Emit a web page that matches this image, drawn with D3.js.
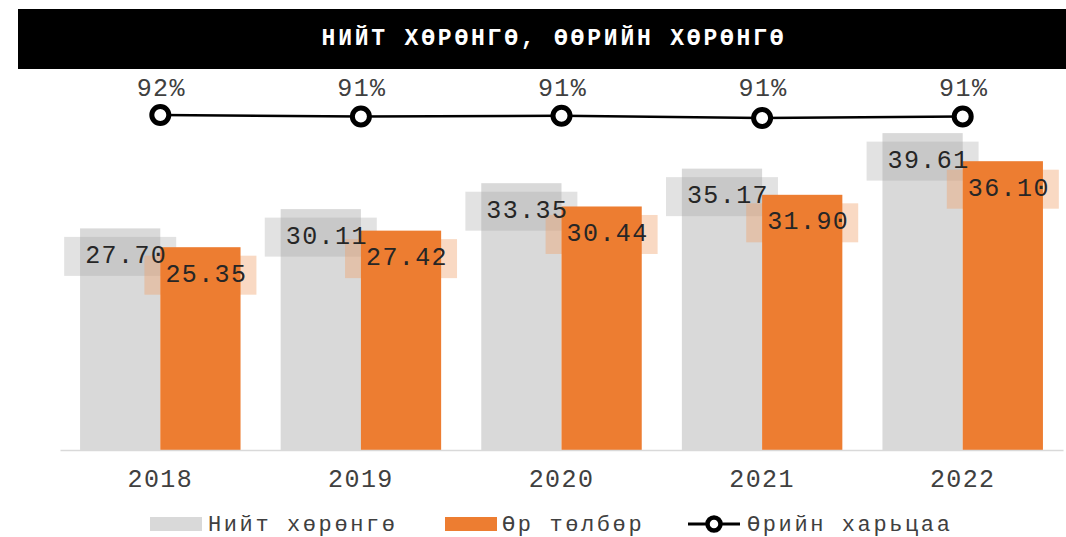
<!DOCTYPE html>
<html>
<head>
<meta charset="utf-8">
<script src="https://cdn.jsdelivr.net/npm/d3@7"></script>
<style>
  html, body { margin: 0; padding: 0; background: #fff; }
  svg { display: block; }
</style>
</head>
<body>
<div id="chart"></div>
<script>
//# Нийт хөрөнгө, өөрийн хөрөнгө


//## Data

const years = ["2018", "2019", "2020", "2021", "2022"];
const totalAssets = [27.70, 30.11, 33.35, 35.17, 39.61];
const liabilities = [25.35, 27.42, 30.44, 31.90, 36.10];
const debtRatio = [0.915, 0.911, 0.913, 0.907, 0.911];

const seriesNames = ["Нийт хөрөнгө", "Өр төлбөр", "Өрийн харьцаа"];
const title = "НИЙТ ХӨРӨНГӨ, ӨӨРИЙН ХӨРӨНГӨ";


//## Style

const width = 1066;
const height = 537;
const grey = "#D9D9D9";
const orange = "#ED7D31";
const textColor = "#404040";
const fontFamily = "'Courier New', 'Liberation Mono', monospace";


//## Chart

const svg = d3.select("#chart")
  .append("svg")
  .attr("width", width)
  .attr("height", height);

// title band
svg.append("rect")
  .attr("x", 18).attr("y", 9)
  .attr("width", width - 18).attr("height", 60)
  .attr("fill", "#000");

svg.append("text")
  .attr("x", 554).attr("y", 39)
  .attr("text-anchor", "middle")
  .attr("dominant-baseline", "central")
  .style("font-family", fontFamily)
  .style("font-weight", "bold")
  .style("font-size", "23px")
  .style("letter-spacing", "2.8px")
  .attr("fill", "#fff")
  .text(title);

const x = d3.scaleBand()
  .domain(years)
  .range([60, 1063])
  .paddingInner(0.2)
  .paddingOuter(0.1);

const x1 = d3.scaleBand()
  .domain([0, 1])
  .range([0, x.bandwidth()]);

const y = d3.scaleLinear()
  .domain([0, 40])
  .range([450, 130]);

const y2 = d3.scaleLinear()
  .domain([0.90, 0.92])
  .range([120.6, 113.1]);

const rows = years.map((year, i) => ({
  year,
  values: [totalAssets[i], liabilities[i]],
  ratio: debtRatio[i]
}));

const labelFont = (sel) => sel
  .style("font-family", fontFamily)
  .style("font-size", "25px")
  .style("letter-spacing", "1.4px");

// grey bars
svg.append("g")
  .selectAll("rect")
  .data(rows)
  .join("rect")
  .attr("x", (d) => x(d.year) + x1(0))
  .attr("y", (d) => y(d.values[0]))
  .attr("width", x1.bandwidth())
  .attr("height", (d) => y(0) - y(d.values[0]))
  .attr("fill", grey);

// label boxes
const boxW = 112, boxH = 39, boxOffset = 28;
const boxFill = ["rgba(166,166,166,0.32)", "rgba(241,160,105,0.4)"];

[0, 1].forEach((k) => {
  svg.append("g")
    .selectAll("rect")
    .data(rows)
    .join("rect")
    .attr("x", (d) => x(d.year) + x1(k) + x1.bandwidth() / 2 - boxW / 2)
    .attr("y", (d) => y(d.values[k]) + boxOffset - boxH / 2)
    .attr("width", boxW)
    .attr("height", boxH)
    .attr("fill", boxFill[k]);
});

// orange bars
svg.append("g")
  .selectAll("rect")
  .data(rows)
  .join("rect")
  .attr("x", (d) => x(d.year) + x1(1))
  .attr("y", (d) => y(d.values[1]))
  .attr("width", x1.bandwidth())
  .attr("height", (d) => y(0) - y(d.values[1]))
  .attr("fill", orange);

// value labels
[0, 1].forEach((k) => {
  svg.append("g")
    .selectAll("text")
    .data(rows)
    .join("text")
    .attr("x", (d) => x(d.year) + x1(k) + x1.bandwidth() / 2 + 6)
    .attr("y", (d) => y(d.values[k]) + boxOffset)
    .attr("text-anchor", "middle")
    .attr("dominant-baseline", "central")
    .attr("fill", "#262626")
    .call(labelFont)
    .text((d) => d.values[k].toFixed(2));
});

// x axis
const xAxis = svg.append("g")
  .attr("transform", `translate(0,${y(0)})`)
  .call(d3.axisBottom(x).tickSize(0).tickPadding(0));

xAxis.select(".domain")
  .attr("stroke", grey)
  .attr("stroke-width", 1.5);

xAxis.selectAll(".tick text")
  .attr("y", 37)
  .attr("dy", 0)
  .attr("fill", textColor)
  .call(labelFont);

// ratio line
const cx = (d) => x(d.year) + x.bandwidth() / 2;

svg.append("path")
  .datum(rows)
  .attr("fill", "none")
  .attr("stroke", "#000")
  .attr("stroke-width", 2.5)
  .attr("d", d3.line().x(cx).y((d) => y2(d.ratio)));

svg.append("g")
  .selectAll("circle")
  .data(rows)
  .join("circle")
  .attr("cx", cx)
  .attr("cy", (d) => y2(d.ratio))
  .attr("r", 8.5)
  .attr("fill", "#fff")
  .attr("stroke", "#000")
  .attr("stroke-width", 5);

svg.append("g")
  .selectAll("text")
  .data(rows)
  .join("text")
  .attr("x", (d) => cx(d) + 1)
  .attr("y", 96)
  .attr("text-anchor", "middle")
  .attr("fill", textColor)
  .call(labelFont)
  .text((d) => d3.format(".0%")(d.ratio));


//## Legend

const legend = svg.append("g");
const legendFont = (sel) => sel
  .attr("y", 531)
  .attr("fill", textColor)
  .style("font-family", fontFamily)
  .style("font-size", "22px")
  .style("letter-spacing", "2.6px");

legend.append("rect")
  .attr("x", 150).attr("y", 517).attr("width", 52).attr("height", 14)
  .attr("fill", grey);
legend.append("text").attr("x", 208).call(legendFont).text(seriesNames[0]);

legend.append("rect")
  .attr("x", 445).attr("y", 517).attr("width", 52).attr("height", 14)
  .attr("fill", orange);
legend.append("text").attr("x", 502).call(legendFont).text(seriesNames[1]);

legend.append("line")
  .attr("x1", 688).attr("x2", 740).attr("y1", 524).attr("y2", 524)
  .attr("stroke", "#000").attr("stroke-width", 3);
legend.append("circle")
  .attr("cx", 714).attr("cy", 524).attr("r", 6.5)
  .attr("fill", "#fff").attr("stroke", "#000").attr("stroke-width", 4.5);
legend.append("text").attr("x", 747).call(legendFont).text(seriesNames[2]);
</script>
</body>
</html>
